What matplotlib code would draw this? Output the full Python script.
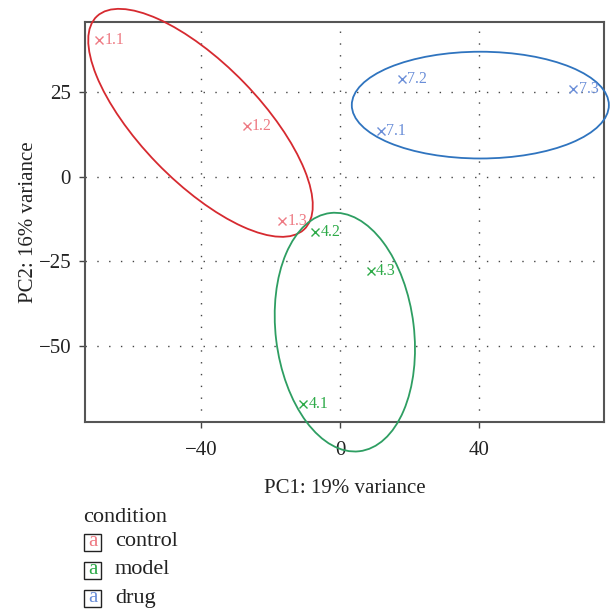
import matplotlib
matplotlib.use('Agg')
import matplotlib.pyplot as plt
from matplotlib.patches import Ellipse, Rectangle
import numpy as np

plt.rcParams['font.family'] = ['Liberation Serif', 'DejaVu Serif']

# sample scores on the first two components
samples = ['1.1', '1.2', '1.3', '4.1', '4.2', '4.3', '7.1', '7.2', '7.3']
pc1 = [-69.3, -26.9, -16.6, -10.6, -7.2, 8.8, 11.7, 17.8, 67.1]
pc2 = [40.4, 15.0, -13.1, -67.2, -16.3, -27.8, 13.6, 28.8, 25.9]
group = ['control', 'control', 'control', 'model', 'model', 'model', 'drug', 'drug', 'drug']

conditions = ['control', 'model', 'drug']
text_colors = ['#EE7A83', '#2DAA48', '#6A8ED8']
ellipse_colors = ['#D62A30', '#2E9E62', '#2F74BF']

# 95% ellipses: centre, semi axes, angle (deg)
ell_cx = [-40.15, 1.4, 40.4]
ell_cy = [15.95, -46.0, 21.2]
ell_a = [43.4, 35.5, 37.0]
ell_b = [17.3, 19.9, 15.8]
ell_angle = [133.3, 96.7, 0.0]

xticks = [-40, 0, 40]
yticks = [-50, -25, 0, 25]

fig = plt.figure(figsize=(6.11, 6.09), dpi=100)
ax = fig.add_axes([85 / 611, 1 - 422 / 609, 519 / 611, 400 / 609])

ax.set_xlim(-73.4, 76.0)
ax.set_ylim(-72.6, 45.8)

for v in xticks:
    ax.axvline(v, color='#444444', lw=1.0, ls=(0, (1, 7.5)), zorder=0)
for v in yticks:
    ax.axhline(v, color='#444444', lw=1.0, ls=(0, (1, 7.5)), zorder=0)

for i, cond in enumerate(conditions):
    e = Ellipse((ell_cx[i], ell_cy[i]), 2 * ell_a[i], 2 * ell_b[i], angle=ell_angle[i],
                fill=False, edgecolor=ellipse_colors[i], lw=1.3, clip_on=False, zorder=3)
    ax.add_patch(e)

for x, y, s, g in zip(pc1, pc2, samples, group):
    c = text_colors[conditions.index(g)]
    ax.plot(x, y, marker='x', color=c, ms=6, mew=1.0, ls='none', zorder=4)
    ax.annotate(s, (x, y), xytext=(4, 0), textcoords='offset points',
                ha='left', va='center', fontsize=11.5, color=c, zorder=4)

ax.set_xticks(xticks)
ax.set_yticks(yticks)
ax.set_xticklabels(['\u221240', '0', '40'])
ax.set_yticklabels(['\u221250', '\u221225', '0', '25'])
ax.tick_params(direction='out', length=4, width=1, color='#444444',
               labelsize=15, labelcolor='#222222')
ax.tick_params(axis='x', pad=10)
ax.tick_params(axis='y', pad=6)
for sp in ax.spines.values():
    sp.set_color('#555555')
    sp.set_linewidth(1.5)

ax.set_xlabel('PC1: 19% variance', fontsize=15, color='#222222', labelpad=13)
ax.set_ylabel('PC2: 16% variance', fontsize=15, color='#222222', labelpad=0.5)

# legend
fig.text(83 / 611, 1 - 518 / 609, 'condition', fontsize=16, color='#222222',
         ha='left', va='center')
key_y = [542, 570, 598]
for i, cond in enumerate(conditions):
    yc = 1 - key_y[i] / 609
    fig.patches.append(Rectangle((84 / 611, yc - 8.5 / 609), 17 / 611, 17 / 609,
                                 transform=fig.transFigure, fill=False,
                                 edgecolor='#222222', lw=1.0))
    fig.text(92.5 / 611, yc, 'a', fontsize=15, color=text_colors[i],
             ha='center', va='center')
    fig.text(115 / 611, yc, cond, fontsize=16, color='#222222',
             ha='left', va='center')

fig.savefig('out.png', dpi=100)
